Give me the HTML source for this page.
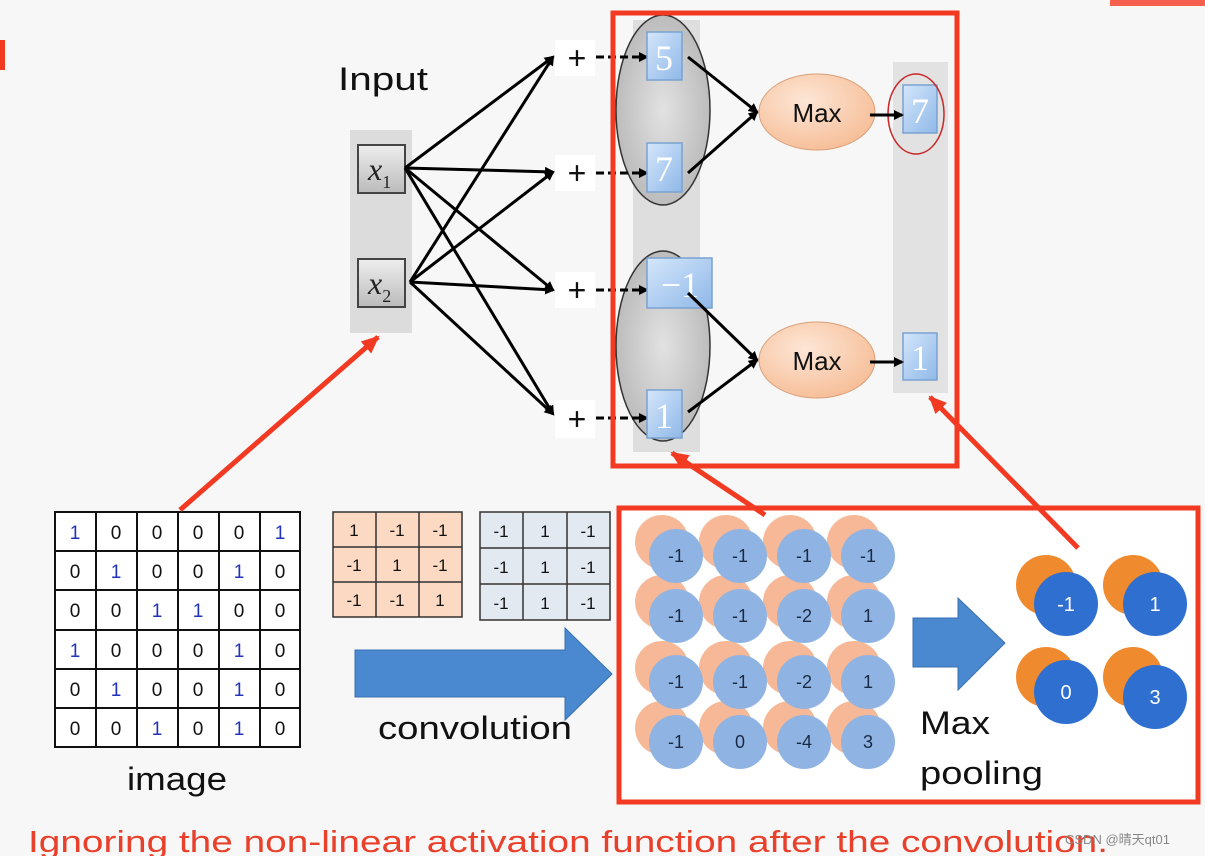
<!DOCTYPE html>
<html><head><style>
html,body{margin:0;padding:0;background:#f7f7f7;}
svg{display:block;font-family:"Liberation Sans",sans-serif;}
</style></head><body>
<svg width="1205" height="856" viewBox="0 0 1205 856">
<defs>
<marker id="a" markerWidth="10" markerHeight="10" refX="8" refY="5" orient="auto" markerUnits="userSpaceOnUse"><path d="M0,0 L10,5 L0,10 z" fill="#000"/></marker>
<marker id="r" markerWidth="20" markerHeight="20" refX="16" refY="10" orient="auto" markerUnits="userSpaceOnUse"><path d="M0,2 L18,10 L0,18 z" fill="#f23a22"/></marker>
<linearGradient id="bs" x1="0" y1="0" x2="1" y2="1"><stop offset="0" stop-color="#d4e6fb"/><stop offset="1" stop-color="#8fb8e8"/></linearGradient>
<linearGradient id="gs" x1="0" y1="0" x2="0" y2="1"><stop offset="0" stop-color="#eee"/><stop offset="1" stop-color="#bbb"/></linearGradient>
<radialGradient id="el" cx="0.5" cy="0.5" r="0.5"><stop offset="0" stop-color="#e2e2e2"/><stop offset="1" stop-color="#bcbcbc"/></radialGradient>
<radialGradient id="mx" cx="0.4" cy="0.35" r="0.7"><stop offset="0" stop-color="#fde6d6"/><stop offset="1" stop-color="#f6bd96"/></radialGradient>
</defs>
<rect x="0" y="40" width="5" height="30" fill="#f23a22"/>
<path d="M1110,0 h95 v6 h-95z" fill="#f23a22" opacity="0.8"/>
<!-- input -->
<text x="338" y="90" font-size="32" fill="#111" textLength="90" lengthAdjust="spacingAndGlyphs">Input</text>
<rect x="350" y="130" width="62" height="203" fill="#dcdcdc"/>
<rect x="358" y="145" width="47" height="48" fill="url(#gs)" stroke="#444" stroke-width="2"/>
<rect x="358" y="259" width="47" height="48" fill="url(#gs)" stroke="#444" stroke-width="2"/>
<text x="368" y="180" font-size="32" font-style="italic" font-family="Liberation Serif,serif" fill="#222">x<tspan font-size="18" font-style="normal" dy="8">1</tspan></text>
<text x="368" y="294" font-size="32" font-style="italic" font-family="Liberation Serif,serif" fill="#222">x<tspan font-size="18" font-style="normal" dy="8">2</tspan></text>
<!-- middle column -->
<rect x="633" y="20" width="67" height="432" fill="#dedede"/>
<ellipse cx="663" cy="110" rx="47" ry="95" fill="url(#el)" stroke="#333" stroke-width="1.5"/>
<ellipse cx="663" cy="346" rx="47" ry="95" fill="url(#el)" stroke="#333" stroke-width="1.5"/>
<!-- plus boxes -->
<g font-size="32" fill="#111" text-anchor="middle">
<rect x="555" y="40" width="40" height="36" fill="#fff"/><text x="577" y="69">+</text>
<rect x="555" y="155" width="40" height="36" fill="#fff"/><text x="577" y="184">+</text>
<rect x="555" y="272" width="40" height="36" fill="#fff"/><text x="577" y="301">+</text>
<rect x="555" y="400" width="40" height="38" fill="#fff"/><text x="577" y="430">+</text>
</g>
<g stroke="#000" stroke-width="3" marker-end="url(#a)">
<line x1="405" y1="168" x2="553" y2="57"/><line x1="405" y1="168" x2="553" y2="172"/><line x1="405" y1="168" x2="553" y2="290"/><line x1="405" y1="168" x2="553" y2="414"/>
<line x1="410" y1="282" x2="553" y2="57"/><line x1="410" y1="282" x2="553" y2="172"/><line x1="410" y1="282" x2="553" y2="290"/><line x1="410" y1="282" x2="553" y2="414"/>
</g>
<g stroke="#000" stroke-width="3" stroke-dasharray="8,4" marker-end="url(#a)">
<line x1="596" y1="57" x2="647" y2="57"/><line x1="596" y1="173" x2="647" y2="173"/><line x1="596" y1="290" x2="647" y2="290"/><line x1="596" y1="418" x2="647" y2="418"/>
</g>
<!-- blue squares -->
<g fill="url(#bs)" stroke="#7aa2d0" stroke-width="1.5">
<rect x="647" y="32" width="35" height="48"/><rect x="647" y="143" width="35" height="49"/><rect x="647" y="258" width="65" height="50"/><rect x="647" y="390" width="35" height="48"/>
</g>
<g font-size="36" fill="#fff" text-anchor="middle" font-family="Liberation Serif,serif">
<text x="664" y="70">5</text><text x="664" y="181">7</text><text x="680" y="297">−1</text><text x="664" y="428">1</text>
</g>
<!-- output column -->
<rect x="893" y="62" width="55" height="331" fill="#dcdcdc" opacity="0.8"/>
<g fill="url(#bs)" stroke="#7aa2d0" stroke-width="1.5"><rect x="903" y="85" width="34" height="48"/><rect x="903" y="333" width="34" height="47"/></g>
<g font-size="36" fill="#fff" text-anchor="middle" font-family="Liberation Serif,serif"><text x="920" y="123">7</text><text x="920" y="370">1</text></g>
<ellipse cx="916" cy="114" rx="28" ry="40" fill="none" stroke="#c8282a" stroke-width="1.5"/>
<!-- max -->
<ellipse cx="817" cy="112" rx="58" ry="38" fill="url(#mx)" stroke="#d9a07a"/>
<ellipse cx="817" cy="360" rx="58" ry="38" fill="url(#mx)" stroke="#d9a07a"/>
<text x="817" y="122" font-size="26" text-anchor="middle" fill="#111">Max</text>
<text x="817" y="370" font-size="26" text-anchor="middle" fill="#111">Max</text>
<g stroke="#000" stroke-width="3" marker-end="url(#a)">
<line x1="688" y1="57" x2="757" y2="112"/><line x1="688" y1="173" x2="757" y2="112"/>
<line x1="688" y1="293" x2="757" y2="360"/><line x1="688" y1="412" x2="757" y2="360"/>
<line x1="870" y1="115" x2="902" y2="115"/><line x1="870" y1="362" x2="902" y2="362"/>
</g>
<rect x="613" y="13" width="344" height="453" fill="none" stroke="#f23a22" stroke-width="5"/>
<!-- image grid -->
<rect x="55" y="512" width="245" height="235" stroke="#111" stroke-width="2" fill="#fff"/>
<g stroke="#111" stroke-width="2">
<line x1="96" y1="512" x2="96" y2="747"/><line x1="137" y1="512" x2="137" y2="747"/><line x1="178" y1="512" x2="178" y2="747"/><line x1="219" y1="512" x2="219" y2="747"/><line x1="260" y1="512" x2="260" y2="747"/>
<line x1="55" y1="551" x2="300" y2="551"/><line x1="55" y1="590" x2="300" y2="590"/><line x1="55" y1="630" x2="300" y2="630"/><line x1="55" y1="669" x2="300" y2="669"/><line x1="55" y1="708" x2="300" y2="708"/>
</g>
<g font-size="19" text-anchor="middle" fill="#111">
<text x="75" y="539" fill="#2233bb">1</text><text x="116" y="539">0</text><text x="157" y="539">0</text><text x="198" y="539">0</text><text x="239" y="539">0</text><text x="280" y="539" fill="#2233bb">1</text>
<text x="75" y="578">0</text><text x="116" y="578" fill="#2233bb">1</text><text x="157" y="578">0</text><text x="198" y="578">0</text><text x="239" y="578" fill="#2233bb">1</text><text x="280" y="578">0</text>
<text x="75" y="617">0</text><text x="116" y="617">0</text><text x="157" y="617" fill="#2233bb">1</text><text x="198" y="617" fill="#2233bb">1</text><text x="239" y="617">0</text><text x="280" y="617">0</text>
<text x="75" y="657" fill="#2233bb">1</text><text x="116" y="657">0</text><text x="157" y="657">0</text><text x="198" y="657">0</text><text x="239" y="657" fill="#2233bb">1</text><text x="280" y="657">0</text>
<text x="75" y="696">0</text><text x="116" y="696" fill="#2233bb">1</text><text x="157" y="696">0</text><text x="198" y="696">0</text><text x="239" y="696" fill="#2233bb">1</text><text x="280" y="696">0</text>
<text x="75" y="735">0</text><text x="116" y="735">0</text><text x="157" y="735" fill="#2233bb">1</text><text x="198" y="735">0</text><text x="239" y="735" fill="#2233bb">1</text><text x="280" y="735">0</text>
</g>
<text x="127" y="790" font-size="32" fill="#111" textLength="100" lengthAdjust="spacingAndGlyphs">image</text>
<!-- filters -->
<rect x="333" y="512" width="129" height="105" fill="#fbd9c2" stroke="#333" stroke-width="1.5"/>
<g stroke="#333" stroke-width="1.5"><line x1="376" y1="512" x2="376" y2="617"/><line x1="419" y1="512" x2="419" y2="617"/><line x1="333" y1="547" x2="462" y2="547"/><line x1="333" y1="582" x2="462" y2="582"/></g>
<g font-size="17" text-anchor="middle" fill="#111">
<text x="354" y="536">1</text><text x="397" y="536">-1</text><text x="440" y="536">-1</text>
<text x="354" y="571">-1</text><text x="397" y="571">1</text><text x="440" y="571">-1</text>
<text x="354" y="606">-1</text><text x="397" y="606">-1</text><text x="440" y="606">1</text>
</g>
<rect x="480" y="512" width="130" height="108" fill="#e3e9f1" stroke="#333" stroke-width="1.5"/>
<g stroke="#333" stroke-width="1.5"><line x1="523" y1="512" x2="523" y2="620"/><line x1="567" y1="512" x2="567" y2="620"/><line x1="480" y1="548" x2="610" y2="548"/><line x1="480" y1="584" x2="610" y2="584"/></g>
<g font-size="17" text-anchor="middle" fill="#111">
<text x="501" y="537">-1</text><text x="545" y="537">1</text><text x="588" y="537">-1</text>
<text x="501" y="573">-1</text><text x="545" y="573">1</text><text x="588" y="573">-1</text>
<text x="501" y="609">-1</text><text x="545" y="609">1</text><text x="588" y="609">-1</text>
</g>
<!-- conv arrow -->
<path d="M355,650 H565 V628 L612,674 L565,720 V697 H355 Z" fill="#4a88cf" stroke="#3a70b0"/>
<text x="378" y="739" font-size="32" fill="#111" textLength="194" lengthAdjust="spacingAndGlyphs">convolution</text>
<!-- bottom box -->
<rect x="619" y="508" width="579" height="294" fill="#fff" stroke="#f23a22" stroke-width="5"/>
<g fill="#f6b896">
<circle cx="662" cy="542" r="27"/><circle cx="726" cy="542" r="27"/><circle cx="790" cy="542" r="27"/><circle cx="854" cy="542" r="27"/>
<circle cx="662" cy="602" r="27"/><circle cx="726" cy="602" r="27"/><circle cx="790" cy="602" r="27"/><circle cx="854" cy="602" r="27"/>
<circle cx="662" cy="668" r="27"/><circle cx="726" cy="668" r="27"/><circle cx="790" cy="668" r="27"/><circle cx="854" cy="668" r="27"/>
<circle cx="662" cy="728" r="27"/><circle cx="726" cy="728" r="27"/><circle cx="790" cy="728" r="27"/><circle cx="854" cy="728" r="27"/>
</g>
<g fill="#8fb4e3">
<circle cx="676" cy="556" r="27"/><circle cx="740" cy="556" r="27"/><circle cx="804" cy="556" r="27"/><circle cx="868" cy="556" r="27"/>
<circle cx="676" cy="616" r="27"/><circle cx="740" cy="616" r="27"/><circle cx="804" cy="616" r="27"/><circle cx="868" cy="616" r="27"/>
<circle cx="676" cy="682" r="27"/><circle cx="740" cy="682" r="27"/><circle cx="804" cy="682" r="27"/><circle cx="868" cy="682" r="27"/>
<circle cx="676" cy="742" r="27"/><circle cx="740" cy="742" r="27"/><circle cx="804" cy="742" r="27"/><circle cx="868" cy="742" r="27"/>
</g>
<g font-size="18" text-anchor="middle" fill="#1a2a44">
<text x="676" y="562">-1</text><text x="740" y="562">-1</text><text x="804" y="562">-1</text><text x="868" y="562">-1</text>
<text x="676" y="622">-1</text><text x="740" y="622">-1</text><text x="804" y="622">-2</text><text x="868" y="622">1</text>
<text x="676" y="688">-1</text><text x="740" y="688">-1</text><text x="804" y="688">-2</text><text x="868" y="688">1</text>
<text x="676" y="748">-1</text><text x="740" y="748">0</text><text x="804" y="748">-4</text><text x="868" y="748">3</text>
</g>
<path d="M913,618 H958 V598 L1005,643 L958,690 V667 H913 Z" fill="#4a88cf" stroke="#3a70b0"/>
<text x="920" y="734" font-size="32" fill="#111" textLength="70" lengthAdjust="spacingAndGlyphs">Max</text>
<text x="920" y="784" font-size="32" fill="#111" textLength="123" lengthAdjust="spacingAndGlyphs">pooling</text>
<g fill="#f08a2e"><circle cx="1046" cy="585" r="30"/><circle cx="1133" cy="585" r="30"/><circle cx="1046" cy="677" r="30"/><circle cx="1133" cy="677" r="30"/></g>
<g fill="#2f6fcf"><circle cx="1066" cy="604" r="32"/><circle cx="1155" cy="604" r="32"/><circle cx="1066" cy="692" r="32"/><circle cx="1155" cy="697" r="32"/></g>
<g font-size="20" text-anchor="middle" fill="#fff"><text x="1066" y="611">-1</text><text x="1155" y="611">1</text><text x="1066" y="699">0</text><text x="1155" y="704">3</text></g>
<!-- red arrows -->
<g stroke="#f23a22" stroke-width="5" marker-end="url(#r)">
<line x1="180" y1="510" x2="378" y2="337"/>
<line x1="765" y1="515" x2="672" y2="453"/>
<line x1="1078" y1="548" x2="930" y2="397"/>
</g>
<text x="28" y="852" font-size="31" fill="#e8402a" textLength="1080" lengthAdjust="spacingAndGlyphs">Ignoring the non-linear activation function after the convolution.</text>
<text x="1065" y="844" font-size="13" fill="#888" font-family="Liberation Sans,Noto Sans CJK SC,sans-serif">CSDN @晴天qt01</text>
</svg>
</body></html>
